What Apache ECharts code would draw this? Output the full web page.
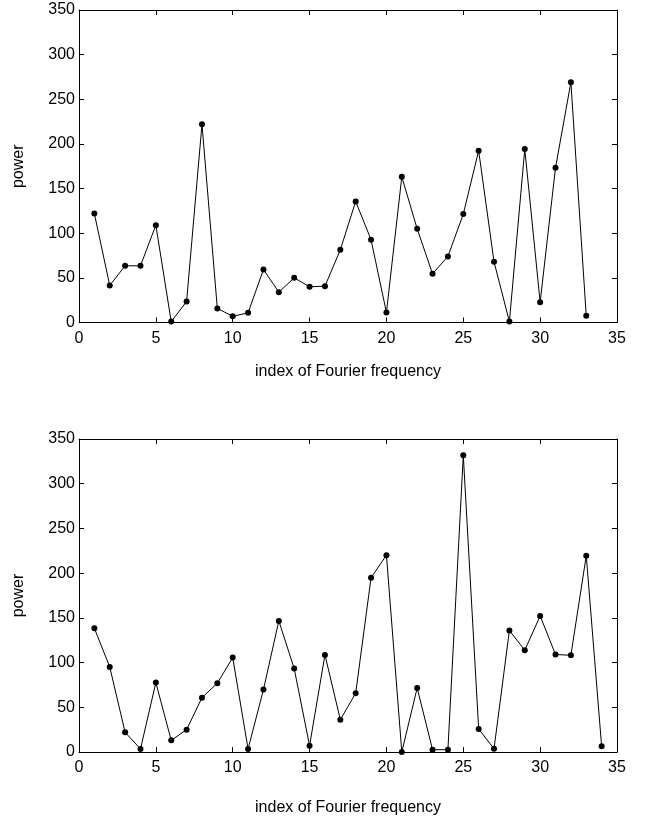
<!DOCTYPE html>
<html>
<head>
<meta charset="utf-8">
<script src="https://cdn.jsdelivr.net/npm/echarts@6/dist/echarts.min.js"></script>
<style>
html,body{margin:0;padding:0;background:#fff;}
#chart{width:648px;height:821px;}
</style>
</head>
<body>
<div id="chart"></div>
<script>
// ---- data ----
const topIndex = [1,2,3,4,5,6,7,8,9,10,11,12,13,14,15,16,17,18,19,20,21,22,23,24,25,26,27,28,29,30,31,32,33];
const topPower = [122,41.5,63.5,63.5,109,1,23.5,222,15.7,7,10.8,59.4,34,50,40,40.7,81.4,135.6,92.6,11.2,163.2,105,54.5,74,121.4,192.4,68,1,194.2,22.8,173.3,269,7.5];
const bottomIndex = [1,2,3,4,5,6,7,8,9,10,11,12,13,14,15,16,17,18,19,20,21,22,23,24,25,26,27,28,29,30,31,32,33,34];
const bottomPower = [138.4,95.1,22,3.4,77.6,13,25,60.8,76.9,105.6,3.4,69.8,146.6,93.3,7.1,108.6,36.2,65.7,194.8,220.1,0,71.6,2.6,2.6,331.7,25.7,3.7,135.8,113.8,152.2,109,108.2,219.4,6.3];
const xTicks = {min: 0, max: 35, interval: 5};
const yTicks = {min: 0, max: 350, interval: 50};
const xTitle = 'index of Fourier frequency';
const yTitle = 'power';

const FONT = '"Liberation Sans", Arial, Helvetica, sans-serif';
const chart = echarts.init(document.getElementById('chart'), null, {renderer: 'canvas'});

const lineStyleAxis = {color: '#000', width: 1};
function xAxes(gridIndex, nameGap) {
  return [
    {
      type: 'value', gridIndex, position: 'bottom',
      min: xTicks.min, max: xTicks.max, interval: xTicks.interval,
      name: xTitle, nameLocation: 'middle', nameGap,
      nameTextStyle: {fontFamily: FONT, fontSize: 16, color: '#000'},
      axisLine: {show: true, onZero: false, lineStyle: lineStyleAxis},
      axisTick: {show: true, inside: true, length: 5, lineStyle: lineStyleAxis},
      axisLabel: {show: true, margin: 8, fontFamily: FONT, fontSize: 16, color: '#000'},
      splitLine: {show: false}
    },
    {
      type: 'value', gridIndex, position: 'top',
      min: xTicks.min, max: xTicks.max, interval: xTicks.interval,
      axisLine: {show: true, onZero: false, lineStyle: lineStyleAxis},
      axisTick: {show: true, inside: true, length: 5, lineStyle: lineStyleAxis},
      axisLabel: {show: false},
      splitLine: {show: false}
    }
  ];
}
function yAxes(gridIndex) {
  return [
    {
      type: 'value', gridIndex, position: 'left',
      min: yTicks.min, max: yTicks.max, interval: yTicks.interval,
      name: yTitle, nameLocation: 'middle', nameGap: 52, nameRotate: 90,
      nameTextStyle: {fontFamily: FONT, fontSize: 16, color: '#000'},
      axisLine: {show: true, onZero: false, lineStyle: lineStyleAxis},
      axisTick: {show: true, inside: true, length: 5, lineStyle: lineStyleAxis},
      axisLabel: {show: true, margin: 4, fontFamily: FONT, fontSize: 16, color: '#000'},
      splitLine: {show: false}
    },
    {
      type: 'value', gridIndex, position: 'right',
      min: yTicks.min, max: yTicks.max, interval: yTicks.interval,
      axisLine: {show: true, onZero: false, lineStyle: lineStyleAxis},
      axisTick: {show: true, inside: true, length: 5, lineStyle: lineStyleAxis},
      axisLabel: {show: false},
      splitLine: {show: false}
    }
  ];
}
function series(xi, yi, xs, ys) {
  return {
    type: 'line', xAxisIndex: xi, yAxisIndex: yi,
    data: xs.map((x, i) => [x, ys[i]]),
    symbol: 'circle', symbolSize: 6, showSymbol: true,
    itemStyle: {color: '#000'},
    lineStyle: {color: '#000', width: 1},
    clip: false, animation: false
  };
}

chart.setOption({
  animation: false,
  backgroundColor: '#fff',
  grid: [
    {left: 79, right: 31, top: 10, height: 312.5, containLabel: false},
    {left: 79, right: 31, top: 439, height: 313, containLabel: false}
  ],
  xAxis: [...xAxes(0, 41), ...xAxes(1, 48)],
  yAxis: [...yAxes(0), ...yAxes(1)],
  series: [
    series(0, 0, topIndex, topPower),
    series(2, 2, bottomIndex, bottomPower)
  ]
});
</script>
</body>
</html>
